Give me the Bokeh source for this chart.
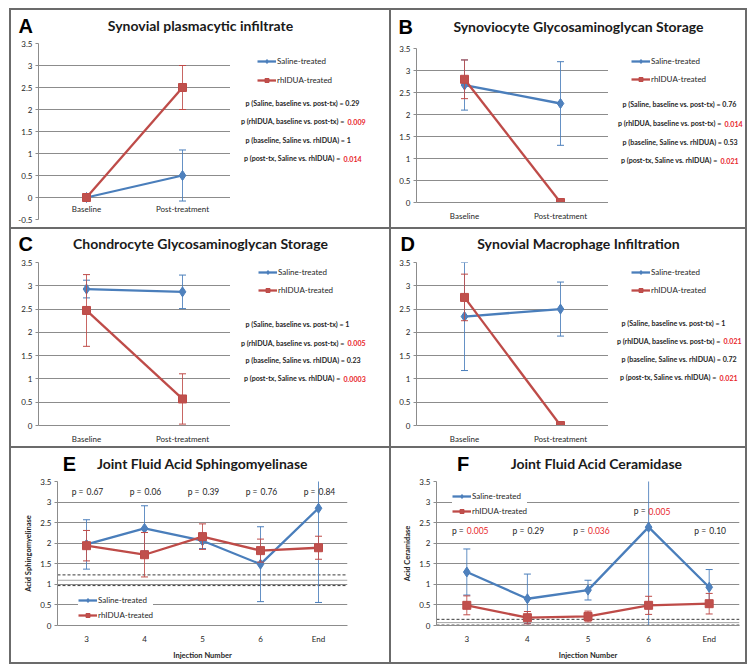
import numpy as np
from bokeh.plotting import figure
from bokeh.models import (Range1d, FactorRange, Legend, LegendItem, Span,
                          FixedTicker, NumeralTickFormatter)
from bokeh.layouts import row, column
from bokeh.embed import file_html
from bokeh.resources import INLINE
from bokeh.core.properties import value

# ---------------- data ----------------
TIMEPOINTS = ["Baseline", "Post-treatment"]
INJECTIONS = ["3", "4", "5", "6", "End"]
SERIES = ["Saline-treated", "rhIDUA-treated"]
LETTERS = ["A", "B", "C", "D", "E", "F"]
TITLES = ["Synovial plasmacytic infiltrate", "Synoviocyte Glycosaminoglycan Storage",
          "Chondrocyte Glycosaminoglycan Storage", "Synovial Macrophage Infiltration",
          "Joint Fluid Acid Sphingomyelinase", "Joint Fluid Acid Ceramidase"]
P_LABELS = ["p (Saline, baseline vs. post-tx) =", "p (rhIDUA, baseline vs. post-tx) =",
            "p (baseline, Saline vs. rhIDUA) =", "p (post-tx, Saline vs. rhIDUA) ="]
SIG = 0.05

A_saline = [0.0, 0.5];   A_saline_err = [0.0, 0.58]
A_rhidua = [0.0, 2.5];   A_rhidua_err = [0.0, 0.5]
A_pvals = ["0.29", "0.009", "1", "0.014"]

B_saline = [2.67, 2.25]; B_saline_err = [0.57, 0.95]
B_rhidua = [2.8, 0.0];   B_rhidua_err = [0.44, 0.0]
B_pvals = ["0.76", "0.014", "0.53", "0.021"]

C_saline = [2.93, 2.87]; C_saline_err = [0.19, 0.36]
C_rhidua = [2.47, 0.57]; C_rhidua_err = [0.77, 0.54]
C_pvals = ["1", "0.005", "0.23", "0.0003"]

D_saline = [2.34, 2.5];  D_saline_err = [1.16, 0.58]
D_rhidua = [2.75, 0.0];  D_rhidua_err = [0.5, 0.0]
D_pvals = ["1", "0.021", "0.72", "0.021"]

E_saline = [1.97, 2.36, 2.06, 1.49, 2.85]
E_saline_err = [0.60, 0.55, 0.19, 0.91, 2.29]
E_rhidua = [1.94, 1.72, 2.16, 1.82, 1.89]
E_rhidua_err = [0.37, 0.54, 0.31, 0.28, 0.28]
E_pvals = ["0.67", "0.06", "0.39", "0.76", "0.84"]
E_normal = [0.97, 1.10, 1.23]      # normal range: lower, mean, upper

F_saline = [1.30, 0.65, 0.86, 2.39, 0.93]
F_saline_err = [0.56, 0.60, 0.24, 2.40, 0.43]
F_rhidua = [0.49, 0.19, 0.22, 0.49, 0.53]
F_rhidua_err = [0.23, 0.15, 0.13, 0.22, 0.25]
F_pvals = ["0.005", "0.29", "0.036", "0.005", "0.10"]
F_normal = [0.01, 0.07, 0.15]

# ---------------- styles ----------------
BLUE_L, BLUE_F = "#4a7ebb", "#4f81bd"
RED_L, RED_F = "#be4b48", "#c0504d"
PRED = "#e8262b"
GRID = "#8c8c8c"
TXT = "#262626"
FONT = "Lato"
PSIZE = "7.1px"
PREFIX_W = [101, 99, 98, 95]
WHITE = {"background-color": "white"}


def blank(w, h, xr, yr, top=0, bottom=0):
    f = figure(width=w, height=h, x_range=Range1d(*xr), y_range=Range1d(*yr),
               output_backend="svg", toolbar_location=None, title=None,
               x_axis_type=None, y_axis_type=None,
               min_border_left=0, min_border_right=0, min_border_top=top, min_border_bottom=bottom)
    f.outline_line_color = None
    f.background_fill_color = "white"
    f.border_fill_color = "white"
    return f


def plot_fig(w, h, left, right, top, bottom, cats, ylo, yhi):
    p = figure(width=w, height=h, x_range=FactorRange(factors=cats), y_range=Range1d(ylo, yhi),
               output_backend="svg", toolbar_location=None, title=None,
               min_border_left=left, min_border_right=right,
               min_border_top=top, min_border_bottom=bottom)
    p.outline_line_color = None
    p.background_fill_color = "white"
    p.border_fill_color = "white"
    p.xgrid.grid_line_color = None
    p.ygrid.grid_line_color = GRID
    p.ygrid.grid_line_width = 1
    p.yaxis.ticker = FixedTicker(ticks=[float(t) for t in np.arange(ylo, yhi + 0.01, 0.5)])
    p.yaxis.formatter = NumeralTickFormatter(format="0.[0]")
    for ax in list(p.yaxis) + list(p.xaxis):
        ax.axis_line_color = GRID
        ax.major_tick_line_color = GRID
        ax.major_tick_out = 3
        ax.major_tick_in = 0
        ax.minor_tick_line_color = None
        ax.major_label_text_font = FONT
        ax.major_label_text_font_size = "8px"
        ax.major_label_text_color = TXT
        ax.major_label_standoff = 3
    p.xaxis.major_tick_line_color = None
    p.xaxis.major_label_standoff = 5
    return p


def series(p, cats, vals, errs, line_c, fill_c, marker, size):
    idx = [i for i, e in enumerate(errs) if e > 0]
    xs = [cats[i] for i in idx]
    lo = [vals[i] - errs[i] for i in idx]
    hi = [vals[i] + errs[i] for i in idx]
    p.segment(x0=xs, y0=lo, x1=xs, y1=hi, line_color=line_c, line_width=1, line_alpha=0.85)
    p.scatter(x=xs, y=hi, marker="dash", size=7, line_color=line_c, line_width=1)
    p.scatter(x=xs, y=lo, marker="dash", size=7, line_color=line_c, line_width=1)
    ln = p.line(x=cats, y=vals, line_color=line_c, line_width=2.3)
    mk = p.scatter(x=cats, y=vals, marker=marker, size=size, fill_color=fill_c, line_color=line_c)
    return [ln, mk]


def proxy_renderers(f):
    # legend samples only: a single NaN point, so nothing is drawn in the plot area
    nan = [float("nan")]
    r1 = [f.line(x=nan, y=nan, line_color=BLUE_L, line_width=2.3),
          f.scatter(x=nan, y=nan, marker="diamond", size=10, fill_color=BLUE_F, line_color=BLUE_L)]
    r2 = [f.line(x=nan, y=nan, line_color=RED_L, line_width=2.3),
          f.scatter(x=nan, y=nan, marker="square", size=8, fill_color=RED_F, line_color=RED_L)]
    return [r1, r2]


def add_legend(f, rends, frame_left, frame_bottom, glyph_x, y_first, pitch, pad=0, bg=False):
    ih = 10
    n = len(rends)
    spacing = pitch - ih
    height = n * ih + (n - 1) * spacing + 2 * pad
    top_edge = y_first - ih / 2 - pad
    bottom_edge = top_edge + height
    items = [LegendItem(label=s, renderers=r) for s, r in zip(SERIES, rends)]
    leg = Legend(items=items, location=(glyph_x - pad - frame_left, frame_bottom - bottom_edge),
                 padding=pad, margin=0, spacing=spacing, glyph_width=19, glyph_height=ih,
                 label_height=ih, label_standoff=1, label_text_font=FONT,
                 label_text_font_size="8px", label_text_color=TXT, border_line_color=None,
                 background_fill_color="white", background_fill_alpha=1.0 if bg else 0.0)
    f.add_layout(leg, "center")


def txt(f, x, y, s, size, color=TXT, bold=False, align="left", font=FONT):
    f.text(x=[x], y=[y], text=[s], text_font=value(font), text_font_size=size,
           text_font_style="bold" if bold else "normal", text_color=color,
           text_align=align, text_baseline="middle")


def make_header(k, w, hh, lx, ly, tx):
    f = blank(w, hh, (0, w), (hh, 0))
    txt(f, lx, ly, LETTERS[k], "20px", color="#000000", bold=True, font="Liberation Sans")
    txt(f, tx, ly, TITLES[k], "14px", color="#1a1a1a", bold=True, align="center")
    return f


def timepoint_panel(k, w, hh, ft, fh, fb, left, fw, ylo, sal, sal_e, rh, rh_e, pvals,
                    lx, ly, tx, gx, gy, pitch, px, pys, inner_labels=False):
    header = make_header(k, w, hh, lx, ly, tx)
    ph = ft + fh + fb
    pw = left + fw
    p = plot_fig(pw, ph, left, 0, ft, fb, TIMEPOINTS, ylo, 3.5)
    series(p, TIMEPOINTS, sal, sal_e, BLUE_L, BLUE_F, "diamond", 10)
    series(p, TIMEPOINTS, rh, rh_e, RED_L, RED_F, "square", 8)
    if inner_labels:
        # Excel puts the category labels just under the zero line
        p.xaxis.visible = False
        p.text(x=TIMEPOINTS, y=[(ylo + 0.0) / 2] * len(TIMEPOINTS), text=TIMEPOINTS,
               text_font=value(FONT), text_font_size="8px", text_color=TXT,
               text_align="center", text_baseline="middle")
    ftop, fbot = hh + ft, hh + ft + fh
    side = blank(w - pw, ph, (pw, w), (fbot, ftop), top=ft, bottom=fb)
    add_legend(side, proxy_renderers(side), pw, fbot, gx, gy, pitch)
    for lab, pv, y, wpre in zip(P_LABELS, pvals, pys, PREFIX_W):
        if float(pv) < SIG:
            txt(side, px + wpre, y, lab, PSIZE, bold=True, align="right")
            txt(side, px + wpre + 3, y, pv, PSIZE, color=PRED, bold=True)
        else:
            txt(side, px, y, f"{lab} {pv}", PSIZE, bold=True)
    return column(header, row(p, side, styles=WHITE), styles=WHITE)


def injection_panel(k, w, hh, ft, fh, fb, left, fw, sal, sal_e, rh, rh_e, pvals, p_ys,
                    normal, ylabel, lx, ly, tx, gx, gy, pitch, bg_pad):
    header = make_header(k, w, hh, lx, ly, tx)
    p = plot_fig(w, ft + fh + fb, left, w - left - fw, ft, fb, INJECTIONS, 0.0, 3.5)
    p.xaxis.axis_label = "Injection Number"
    p.yaxis.axis_label = ylabel
    for ax in list(p.xaxis) + list(p.yaxis):
        ax.axis_label_text_font = FONT
        ax.axis_label_text_font_size = "7.5px"
        ax.axis_label_text_font_style = "bold"
        ax.axis_label_text_color = TXT
        ax.axis_label_standoff = 4
    for loc, dash, col in zip(normal, ["3 2", "solid", "3 2"], ["#3a3a3a", "#a6a6a6", "#3a3a3a"]):
        p.add_layout(Span(location=loc, dimension="width", line_color=col, line_dash=dash,
                          line_width=1, level="underlay"))
    r1 = series(p, INJECTIONS, sal, sal_e, BLUE_L, BLUE_F, "diamond", 10)
    r2 = series(p, INJECTIONS, rh, rh_e, RED_L, RED_F, "square", 8)
    colors = [PRED if float(v) < SIG else TXT for v in pvals]
    p.text(x=INJECTIONS, y=p_ys, text=["p ="] * len(pvals), text_align="right",
           text_baseline="middle", x_offset=-3, text_font=value(FONT),
           text_font_size="8.5px", text_color=TXT)
    p.text(x=INJECTIONS, y=p_ys, text=pvals, text_align="left", text_baseline="middle",
           x_offset=0, text_font=value(FONT), text_font_size="8.5px", text_color=colors)
    add_legend(p, [r1, r2], left, hh + ft + fh, gx, gy, pitch, pad=bg_pad, bg=True)
    return column(header, p, styles=WHITE)


# panel-local coordinates (origin = top-left of each panel)
pA = timepoint_panel(0, 378, 27, 6, 176, 8, 27, 192, -0.5, A_saline, A_saline_err, A_rhidua,
                     A_rhidua_err, A_pvals, 7, 15, 189, 246, 51, 19, 234, [93, 111, 130, 148],
                     inner_labels=True)
pB = timepoint_panel(1, 354, 32, 6, 154, 25, 25, 192, 0.0, B_saline, B_saline_err, B_rhidua,
                     B_rhidua_err, B_pvals, 7, 16, 187, 240, 51, 18, 231, [94, 113, 132, 150])
pC = timepoint_panel(2, 378, 27, 6, 164, 20, 27, 192, 0.0, C_saline, C_saline_err, C_rhidua,
                     C_rhidua_err, C_pvals, 7, 14, 189, 247, 44, 18, 234, [95, 114, 132, 150])
pD = timepoint_panel(3, 354, 27, 6, 164, 20, 25, 192, 0.0, D_saline, D_saline_err, D_rhidua,
                     D_rhidua_err, D_pvals, 9, 14, 187, 240, 44, 18, 230, [94, 112, 131, 149])
pE = injection_panel(4, 378, 27, 6, 146, 35, 46, 290, E_saline, E_saline_err, E_rhidua,
                     E_rhidua_err, E_pvals, [3.25] * 5, E_normal, "Acid Sphingomyelinase",
                     7, 15, 189, 71, 150, 15, 4)
pF = injection_panel(5, 354, 27, 6, 146, 35, 45, 303, F_saline, F_saline_err, F_rhidua,
                     F_rhidua_err, F_pvals, [2.3, 2.3, 2.3, 2.78, 2.3], F_normal,
                     "Acid Ceramidase", 24, 15, 187, 65, 46, 15, 4)

layout = column(row(pA, pB, spacing=2), row(pC, pD, spacing=2), row(pE, pF, spacing=2),
                spacing=2, styles={"background-color": "#6b6b6b", "padding": "2px",
                                   "margin": "8px 0px 0px 9px"})

open("out.html", "w").write(file_html(layout, INLINE))
